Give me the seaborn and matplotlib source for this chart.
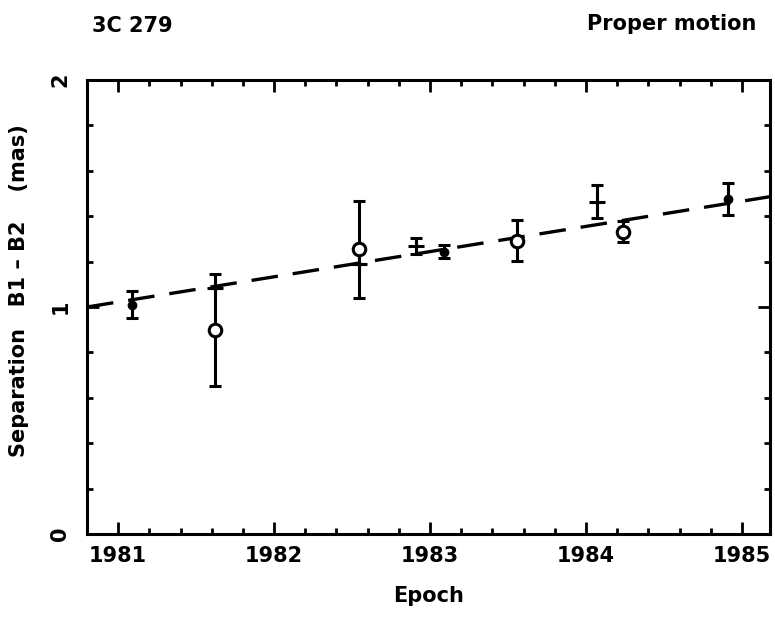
import matplotlib
matplotlib.use("Agg")
import matplotlib.pyplot as plt
from matplotlib.ticker import MultipleLocator, FixedLocator
import seaborn as sns
import pandas as pd

# ---- data ----
dot_epoch = [1981.09, 1983.09, 1984.91]
dot_sep = [1.01, 1.244, 1.476]
dot_err = [0.06, 0.03, 0.07]

circ_epoch = [1981.62, 1982.547, 1983.556, 1984.24]
circ_sep = [0.899, 1.254, 1.292, 1.332]
circ_err = [0.245, 0.215, 0.09, 0.045]

plus_epoch = [1981.62, 1982.547, 1982.91, 1984.07]
plus_sep = [1.084, 1.19, 1.269, 1.464]
plus_err = [0.0, 0.0, 0.035, 0.072]

fit_epoch = [1980.8, 1985.18]
fit_sep = [1.0, 1.486]

x_ticks = [1981, 1982, 1983, 1984, 1985]
y_ticks = [0, 1, 2]

sns.set_theme(style="ticks")
plt.rcParams["font.family"] = ["DejaVu Sans"]
plt.rcParams["font.weight"] = "bold"
plt.rcParams["text.color"] = "black"
plt.rcParams["axes.labelcolor"] = "black"
plt.rcParams["xtick.color"] = "black"
plt.rcParams["ytick.color"] = "black"

fig = plt.figure(figsize=(7.75, 6.18), dpi=100)
ax = fig.add_axes([87 / 775, 1 - 534 / 618, (770 - 87) / 775, (534 - 80) / 618])

fit_df = pd.DataFrame({"Epoch": fit_epoch, "Sep": fit_sep})
sns.lineplot(data=fit_df, x="Epoch", y="Sep", ax=ax, color="black",
             linewidth=2.4, dashes=False, zorder=2)
ax.lines[-1].set_dashes([8, 4.5])

ekw = dict(ecolor="black", elinewidth=2.2, capsize=4.5, capthick=2.2,
           color="black", linestyle="none", zorder=3)
ax.errorbar(dot_epoch, dot_sep, yerr=dot_err, fmt="o", markersize=6,
            markerfacecolor="black", markeredgecolor="black", **ekw)
ax.errorbar(circ_epoch, circ_sep, yerr=circ_err, fmt="o", markersize=9,
            markerfacecolor="white", markeredgecolor="black",
            markeredgewidth=2.2, **ekw)
ax.errorbar(plus_epoch, plus_sep, yerr=plus_err, fmt="+", markersize=11,
            markeredgewidth=2.2, **ekw)

ax.set_xlim(1980.8, 1985.18)
ax.set_ylim(0, 2)
ax.xaxis.set_major_locator(FixedLocator(x_ticks))
ax.xaxis.set_minor_locator(MultipleLocator(0.2))
ax.yaxis.set_major_locator(FixedLocator(y_ticks))
ax.yaxis.set_minor_locator(MultipleLocator(0.2))
ax.set_xticklabels([str(t) for t in x_ticks], fontsize=15, fontweight="bold")
ax.set_yticklabels([str(t) for t in y_ticks], fontsize=15, fontweight="bold",
                   rotation=90, va="center")

ax.tick_params(which="both", direction="in", top=True, right=True,
               width=2.0, color="black", labelcolor="black")
ax.tick_params(which="major", length=8.5, pad=9)
ax.tick_params(which="minor", length=4.5)
ax.tick_params(axis="y", which="major", pad=12)
for s in ax.spines.values():
    s.set_linewidth(2.2)
    s.set_color("black")

ax.set_xlabel("Epoch", fontsize=15, fontweight="bold", labelpad=14,
              color="black")
ax.set_ylabel("Separation   B1 \u2013 B2    (mas)", fontsize=15,
              fontweight="bold", color="black")
ax.yaxis.set_label_coords(-0.085, 0.535)

fig.text(92 / 775, 1 - 32 / 618, "3C 279", fontsize=15, fontweight="bold",
         ha="left", va="baseline", color="black")
fig.text(756 / 775, 1 - 30 / 618, "Proper motion", fontsize=15,
         fontweight="bold", ha="right", va="baseline", color="black")

fig.savefig("out.png", dpi=100, facecolor="white")
